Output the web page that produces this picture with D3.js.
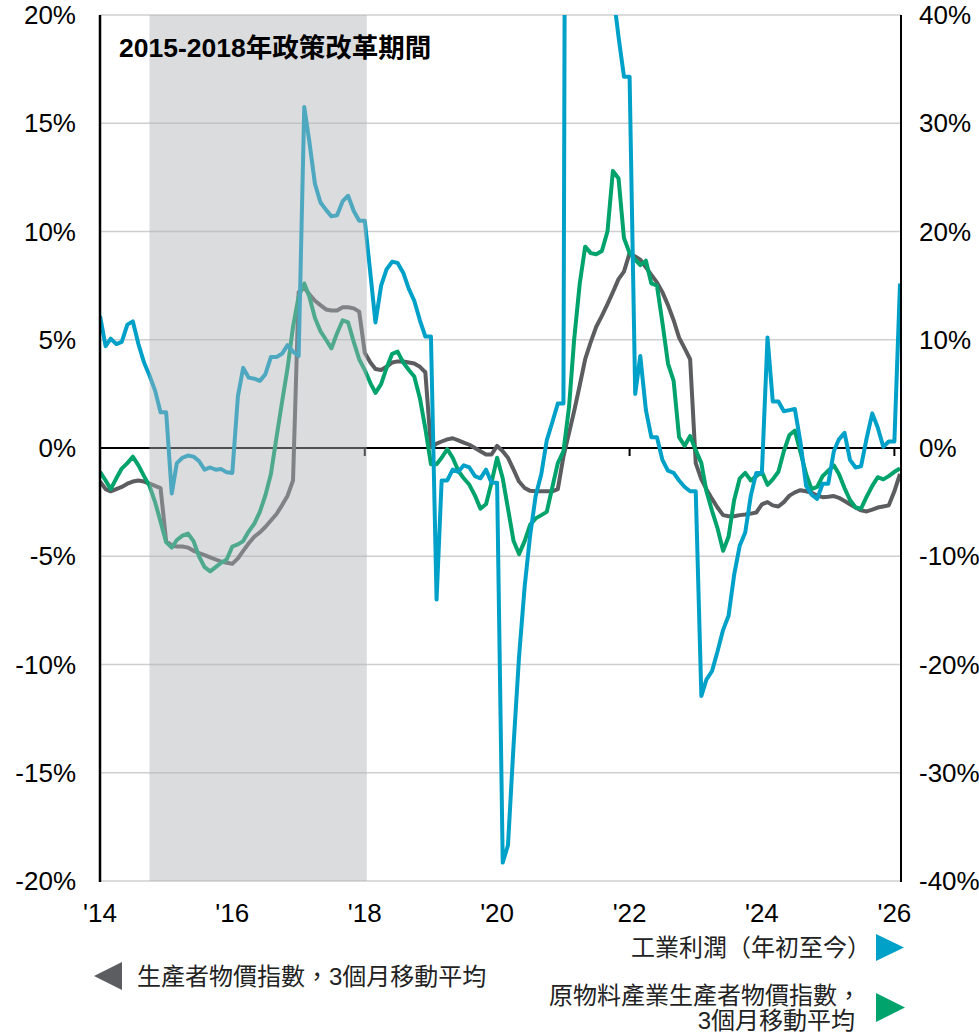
<!DOCTYPE html>
<html>
<head>
<meta charset="utf-8">
<script src="https://cdn.jsdelivr.net/npm/d3@7/dist/d3.min.js"></script>
<style>
  body { margin: 0; background: #fff; }
  svg text { font-family: "Liberation Sans", Arial, "Noto Sans CJK TC", sans-serif; }
  .cjk { font-family: "Liberation Sans", "Noto Sans CJK TC", sans-serif; }
</style>
</head>
<body>
<div id="chart"></div>
<script>
////////// Data (monthly, starting Jan 2014) ///////////

var startYear = 2014;

// Producer price index, 3 month moving average (left axis, %)
var ppi = [
  -1.55, -1.9, -2.0, -1.9, -1.8, -1.65, -1.55, -1.5, -1.55, -1.65, -1.75, -1.85,
  -4.3, -4.5, -4.55, -4.55, -4.6, -4.75, -4.85, -4.95, -5.05, -5.15, -5.25, -5.3,
  -5.35, -5.1, -4.75, -4.4, -4.1, -3.9, -3.65, -3.35, -3.05, -2.65, -2.2, -1.5,
  7.2, 7.4, 7.1, 6.8, 6.6, 6.4, 6.35, 6.35, 6.5, 6.5, 6.45, 6.3,
  4.4, 3.95, 3.65, 3.6, 3.75, 3.95, 4.0, 4.0, 3.95, 3.9, 3.75, 3.5,
  0.05, 0.2, 0.3, 0.4, 0.45, 0.35, 0.25, 0.15, 0.0, -0.15, -0.3, -0.3,
  0.1, -0.15, -0.45, -1.0, -1.55, -1.85, -1.98, -2.0, -2.0, -2.0, -2.0, -1.9,
  -0.4, 0.7, 1.7, 2.9, 4.1, 4.9, 5.6, 6.1, 6.65, 7.2, 7.8, 8.15,
  9.0, 8.85, 8.7, 8.35, 8.0, 7.65, 7.2, 6.6, 5.9, 5.1, 4.6, 4.1,
  -0.7, -1.45, -1.9, -2.35, -2.75, -3.1, -3.15, -3.15, -3.1, -3.07, -3.03, -2.98,
  -2.6, -2.5, -2.65, -2.7, -2.5, -2.2, -2.05, -1.95, -2.0, -2.07, -2.2, -2.27,
  -2.25, -2.22, -2.3, -2.45, -2.6, -2.75, -2.88, -2.93, -2.85, -2.75, -2.7, -2.65,
  -2.0, -1.2
];

// Raw materials industry PPI, 3 month moving average (right axis, %)
var rawPpi = [
  -2.2, -3.0, -3.8, -2.8, -1.9, -1.4, -0.8, -1.6, -2.6, -3.5, -5.0, -6.8,
  -8.7, -9.2, -8.5, -8.1, -7.9, -8.6, -10.0, -11.0, -11.4, -11.0, -10.6, -10.3,
  -9.1, -8.9, -8.6, -7.7, -7.0, -5.9, -4.4, -2.4, 1.0, 4.2, 7.4, 11.2,
  14.0, 15.2, 14.0, 12.0, 10.8, 10.0, 9.2, 10.6, 11.8, 11.6, 9.8, 8.2,
  7.2, 6.0, 5.1, 5.9, 7.4, 8.7, 8.9, 7.9, 7.2, 6.6, 4.6, 1.8,
  -1.5, -1.5, -0.9, -0.1, -0.9, -2.1, -2.8, -3.4, -4.4, -5.6, -5.2, -3.2,
  -0.9, -2.8, -5.6, -8.6, -9.8, -8.6, -7.1, -6.5, -6.2, -5.9, -3.6, -1.4,
  -0.3, 3.8, 10.0, 15.2, 18.6, 18.0, 17.9, 18.2, 20.0, 25.6, 24.9, 19.4,
  18.0, 17.4, 16.9, 17.3, 15.2, 15.0, 11.6, 7.8, 6.2, 1.0, 0.2, 1.1,
  -0.2, -1.4, -4.0, -5.8, -7.4, -9.5, -8.2, -4.8, -2.8, -2.3, -3.0, -2.6,
  -2.2, -3.4, -2.9, -2.2, -0.3, 1.2, 1.6, -0.4, -2.4, -3.8, -3.6, -2.6,
  -2.1, -1.6, -2.4, -3.7, -4.8, -5.5, -5.6, -4.5, -3.5, -2.7, -2.9, -2.6,
  -2.2, -1.9
];

// Industrial profits, year to date (right axis, %)
var profits = [
  12.2, 9.4, 10.1, 9.6, 9.8, 11.4, 11.7, 9.6, 7.9, 6.7, 5.3, 3.3,
  3.3, -4.2, -1.4, -0.9, -0.7, -0.8, -1.2, -2.0, -1.8, -2.0, -1.95, -2.25,
  -2.3, 4.8, 7.4, 6.5, 6.4, 6.2, 6.8, 8.4, 8.4, 8.7, 9.5, 8.9,
  8.5, 31.5, 28.3, 24.4, 22.7, 22.0, 21.4, 21.5, 22.8, 23.3, 21.9, 21.0,
  21.0, 16.1, 11.6, 15.0, 16.5, 17.2, 17.1, 16.2, 14.7, 13.6, 11.8, 10.3,
  10.3, -14.0, -3.0, -3.0, -2.0, -2.2, -1.6, -1.8, -2.6, -2.8, -2.0, -3.2,
  -3.2, -38.3, -36.7, -27.4, -19.3, -12.8, -8.1, -4.4, -2.4, 0.7, 2.4, 4.1,
  4.1, 178.9, 137.3, 106.0, 83.4, 66.9, 57.3, 49.5, 44.7, 42.2, 38.0, 34.3,
  34.3, 5.0, 8.5, 3.5, 1.0, 1.0, -1.1, -2.1, -2.3, -3.0, -3.6, -4.0,
  -4.0, -22.9, -21.4, -20.6, -18.8, -16.8, -15.5, -11.7, -9.0, -7.8, -4.4, -2.3,
  -2.3, 10.2, 4.3, 4.3, 3.4, 3.5, 3.6, 0.5, -3.5, -4.3, -4.7, -3.3,
  -3.3, -0.3, 0.8, 1.4, -1.1, -1.8, -1.7, 0.9, 3.2, 1.9, 0.1, 0.6,
  0.6, 15.2
];

var leftTicks = [-20, -15, -10, -5, 0, 5, 10, 15, 20];
var rightTicks = [-40, -30, -20, -10, 0, 10, 20, 30, 40];
var yearTicks = [2014, 2016, 2018, 2020, 2022, 2024, 2026];
var markTicks = [2018, 2022, 2026];
var shadeFrom = new Date(2014, 9, 1), shadeTo = new Date(2018, 0, 12);
var shadeLabel = "2015-2018年政策改革期間";

var colors = { ppi: "#5b5d60", raw: "#00a36c", profits: "#00a1c8" };

function toSeries(values) {
  return values.map(function(v, i) {
    return { date: new Date(startYear, i, 1), value: v };
  });
}

////////// Draw ///////////

var width = 979, height = 1034;
var plot = { left: 100, right: 901, top: 15, bottom: 881 };

var svg = d3.select("#chart").append("svg")
  .attr("width", width)
  .attr("height", height);

var x = d3.scaleTime()
  .domain([new Date(2014, 0, 1), new Date(2026, 1, 1)])
  .range([plot.left, 900]);
var yLeft = d3.scaleLinear().domain([-20, 20]).range([plot.bottom, plot.top]);
var yRight = d3.scaleLinear().domain([-40, 40]).range([plot.bottom, plot.top]);

svg.append("clipPath").attr("id", "plot-clip")
  .append("rect")
  .attr("x", plot.left).attr("y", plot.top)
  .attr("width", plot.right - plot.left).attr("height", plot.bottom - plot.top);

// Gridlines
svg.append("g").selectAll("line")
  .data(leftTicks.filter(function(d) { return d != 0; }))
  .enter().append("line")
  .attr("x1", plot.left).attr("x2", plot.right)
  .attr("y1", function(d) { return yLeft(d); })
  .attr("y2", function(d) { return yLeft(d); })
  .style("stroke", "#cfcfcf")
  .style("stroke-width", 1.5);

// Zero line and its year marks
svg.append("line")
  .attr("x1", plot.left).attr("x2", plot.right)
  .attr("y1", yLeft(0)).attr("y2", yLeft(0))
  .style("stroke", "#000").style("stroke-width", 2);

svg.append("g").selectAll("line")
  .data(markTicks)
  .enter().append("line")
  .attr("x1", function(d) { return x(new Date(d, 0, 1)); })
  .attr("x2", function(d) { return x(new Date(d, 0, 1)); })
  .attr("y1", yLeft(0)).attr("y2", yLeft(0) + 8)
  .style("stroke", "#000").style("stroke-width", 2);

// Lines
var lines = svg.append("g").attr("clip-path", "url(#plot-clip)");

function drawLine(values, scale, color) {
  var line = d3.line()
    .x(function(d) { return x(d.date); })
    .y(function(d) { return scale(d.value); });
  lines.append("path")
    .datum(toSeries(values))
    .attr("d", line)
    .style("fill", "none")
    .style("stroke", color)
    .style("stroke-width", 4)
    .style("stroke-linejoin", "round");
}

drawLine(ppi, yLeft, colors.ppi);
drawLine(rawPpi, yRight, colors.raw);
drawLine(profits, yRight, colors.profits);

// Policy reform period shading (sits over the lines, semi transparent)
svg.append("rect")
  .attr("x", x(shadeFrom))
  .attr("y", plot.top)
  .attr("width", x(shadeTo) - x(shadeFrom))
  .attr("height", plot.bottom - plot.top)
  .style("fill", "#aeb2b6")
  .style("opacity", 0.45);

svg.append("text")
  .attr("class", "cjk")
  .attr("x", 119)
  .attr("y", 57)
  .style("font-size", "26.5px")
  .style("font-weight", "bold")
  .text(shadeLabel);

// Axis lines
svg.append("line")
  .attr("x1", plot.left).attr("x2", plot.left)
  .attr("y1", plot.top).attr("y2", plot.bottom + 1)
  .style("stroke", "#000").style("stroke-width", 2.5);
svg.append("line")
  .attr("x1", plot.right).attr("x2", plot.right)
  .attr("y1", plot.top).attr("y2", plot.bottom + 1)
  .style("stroke", "#000").style("stroke-width", 2);

// Tick labels
svg.append("g").selectAll("text")
  .data(leftTicks)
  .enter().append("text")
  .attr("x", 76)
  .attr("y", function(d) { return yLeft(d) + 9; })
  .attr("text-anchor", "end")
  .style("font-size", "26px")
  .text(function(d) { return d + "%"; });

svg.append("g").selectAll("text")
  .data(rightTicks)
  .enter().append("text")
  .attr("x", 919)
  .attr("y", function(d) { return yRight(d) + 9; })
  .style("font-size", "26px")
  .text(function(d) { return d + "%"; });

svg.append("g").selectAll("text")
  .data(yearTicks)
  .enter().append("text")
  .attr("x", function(d) { return x(new Date(d, 0, 1)); })
  .attr("y", 922)
  .attr("text-anchor", "middle")
  .style("font-size", "26px")
  .text(function(d) { return "'" + String(d).slice(2); });

// Legend
var legend = svg.append("g").attr("class", "cjk").style("font-size", "24px").style("fill", "#222");

legend.append("path").attr("d", "M876,934L876,961L904,947.5Z").style("fill", colors.profits);
legend.append("text").attr("x", 871).attr("y", 956).attr("text-anchor", "end")
  .text("工業利潤（年初至今）");

legend.append("path").attr("d", "M122,962L122,990L94,976Z").style("fill", colors.ppi);
legend.append("text").attr("x", 137).attr("y", 985)
  .text("生產者物價指數，3個月移動平均");

legend.append("path").attr("d", "M876,993L876,1022L905,1007.5Z").style("fill", colors.raw);
legend.append("text").attr("x", 861).attr("y", 1004).attr("text-anchor", "end")
  .text("原物料產業生產者物價指數，");
legend.append("text").attr("x", 855).attr("y", 1029).attr("text-anchor", "end")
  .text("3個月移動平均");
</script>
</body>
</html>
